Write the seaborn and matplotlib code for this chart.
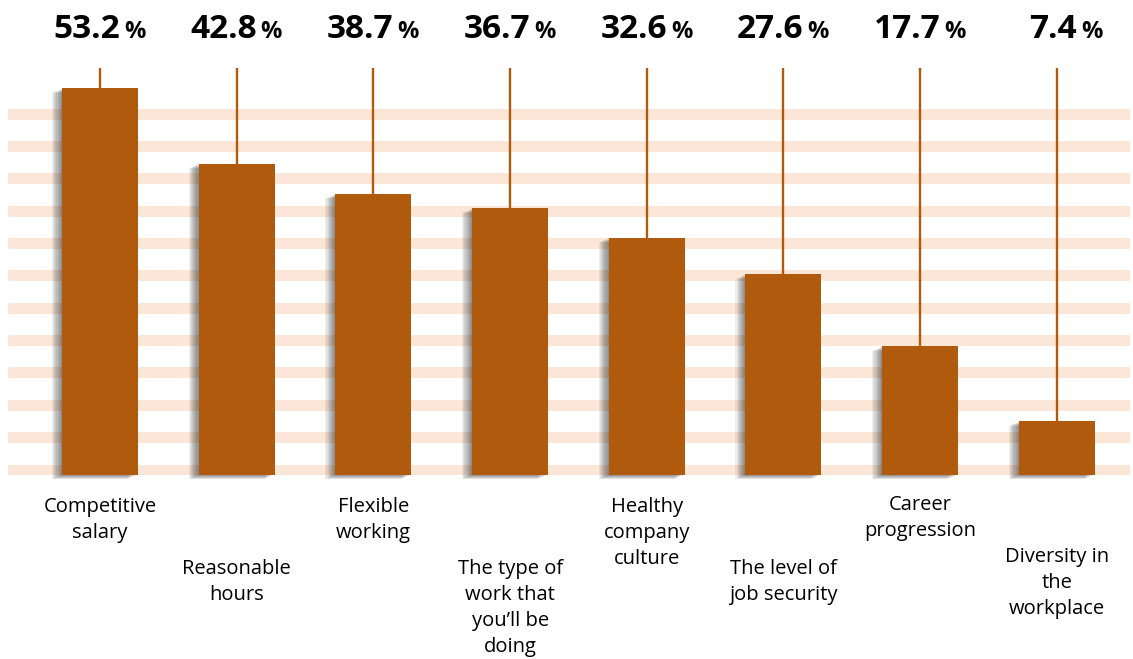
import numpy as np
import pandas as pd
import matplotlib
matplotlib.use("Agg")
import matplotlib.pyplot as plt
import matplotlib.patheffects as pe
from matplotlib.transforms import blended_transform_factory
import seaborn as sns

categories = [
    "Competitive\nsalary",
    "Reasonable\nhours",
    "Flexible\nworking",
    "The type of\nwork that\nyou’ll be\ndoing",
    "Healthy\ncompany\nculture",
    "The level of\njob security",
    "Career\nprogression",
    "Diversity in\nthe\nworkplace",
]
values = [53.2, 42.8, 38.7, 36.7, 32.6, 27.6, 17.7, 7.4]
value_labels = ["53.2", "42.8", "38.7", "36.7", "32.6", "27.6", "17.7", "7.4"]

BAR = "#B05A0E"
STRIPE = "#FBE6D7"

sns.set_style("white")
plt.rcParams["font.family"] = ["Open Sans", "DejaVu Sans"]

W, H = 1133, 659
fig = plt.figure(figsize=(W / 100, H / 100), dpi=100)
px_per_unit = 7.27
base_px = 475
ax = fig.add_axes([8 / W, (H - base_px) / H, 1122 / W, base_px / H])

df = pd.DataFrame({"category": categories, "value": values})

# decorative stripes
for k in range(12):
    ax.axhline((5.5 + 32.36 * k) / px_per_unit, color=STRIPE, lw=11 * 0.72, zorder=0)

line_top = (base_px - 68) / px_per_unit
ax.vlines(np.arange(len(values)), values, line_top, color=BAR, lw=1.7, zorder=1)

sns.barplot(data=df, x="category", y="value", color=BAR, saturation=1,
            width=0.556, ax=ax, zorder=3)

shadow = []
for k in range(1, 10):
    shadow.append(pe.SimplePatchShadow(offset=(-k * 0.8, -k * 0.35),
                                       shadow_rgbFace="black", alpha=0.06))
shadow.append(pe.Normal())
for p in ax.patches:
    p.set_path_effects(shadow)
    p.set_clip_on(False)
    p.set_edgecolor("none")

ax.set_xlim(-0.673, 7.535)
ax.set_ylim(0, base_px / px_per_unit)
ax.set_axis_off()

trans = blended_transform_factory(ax.transData, fig.transFigure)

# top value labels
for i, lab in enumerate(value_labels):
    ax.annotate(lab, xy=(i, 1 - 38 / H), xycoords=trans,
                xytext=(20, 0), textcoords="offset pixels",
                ha="right", va="baseline", fontsize=24, fontweight="bold",
                color="black", annotation_clip=False)
    ax.annotate("%", xy=(i, 1 - 38 / H), xycoords=trans,
                xytext=(24, 0), textcoords="offset pixels",
                ha="left", va="baseline", fontsize=17, fontweight="bold",
                color="black", annotation_clip=False)

# category labels, staggered (first-line baseline in pixels)
first_baseline = [512, 574, 512, 574, 512, 574, 510, 562]
pitch = 26
for i, lab in enumerate(categories):
    for j, line in enumerate(lab.split("\n")):
        ax.text(i, 1 - (first_baseline[i] + j * pitch) / H, line,
                transform=trans, ha="center", va="baseline",
                fontsize=14.5, color="black")

fig.savefig("out.png", dpi=100)
